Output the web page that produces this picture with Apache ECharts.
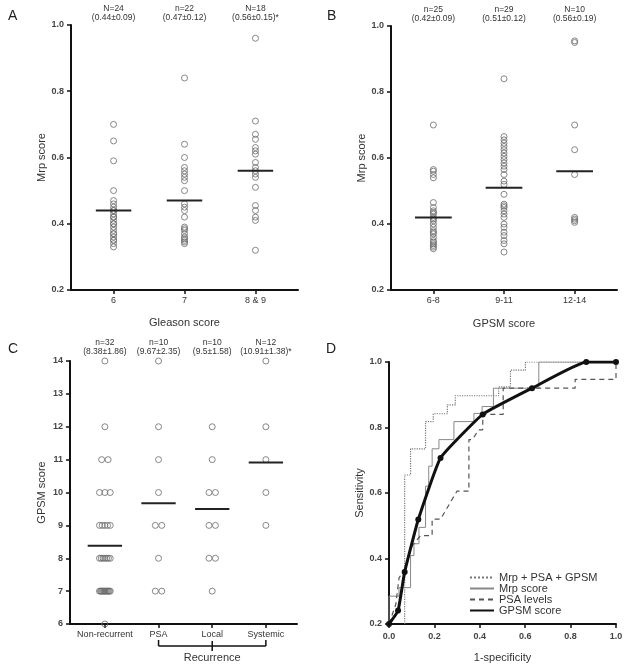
<!DOCTYPE html>
<html>
<head>
<meta charset="utf-8">
<script src="https://cdn.jsdelivr.net/npm/echarts@6/dist/echarts.min.js"></script>
<style>
html, body { margin: 0; padding: 0; background: #fff; }
#chart { width: 629px; height: 668px; }
</style>
</head>
<body>
<div id="chart"></div>
<script>
// panel A: Mrp score by Gleason score
const gleasonCats = ['6', '7', '8 & 9']
const gleasonN = ['N=24', 'n=22', 'N=18']
const gleasonStats = ['(0.44±0.09)', '(0.47±0.12)', '(0.56±0.15)*']
const gleasonMeans = [0.44, 0.47, 0.56]
const mrpGleason6 = [0.70, 0.65, 0.59, 0.50, 0.47, 0.46, 0.45, 0.44, 0.44, 0.43, 0.42, 0.42, 0.41, 0.40, 0.40, 0.39, 0.38, 0.37, 0.37, 0.36, 0.35, 0.35, 0.34, 0.33]
const mrpGleason7 = [0.84, 0.64, 0.60, 0.57, 0.56, 0.55, 0.54, 0.53, 0.50, 0.46, 0.45, 0.44, 0.42, 0.39, 0.385, 0.38, 0.37, 0.36, 0.355, 0.35, 0.345, 0.34]
const mrpGleason89 = [0.96, 0.71, 0.67, 0.655, 0.63, 0.62, 0.61, 0.585, 0.57, 0.56, 0.55, 0.54, 0.51, 0.455, 0.44, 0.42, 0.41, 0.32]

// panel B: Mrp score by GPSM score
const gpsmCats = ['6-8', '9-11', '12-14']
const gpsmN = ['n=25', 'n=29', 'N=10']
const gpsmStats = ['(0.42±0.09)', '(0.51±0.12)', '(0.56±0.19)']
const gpsmMeans = [0.42, 0.51, 0.56]
const mrpGpsm68 = [0.70, 0.565, 0.56, 0.55, 0.54, 0.465, 0.45, 0.44, 0.435, 0.43, 0.42, 0.415, 0.41, 0.40, 0.39, 0.38, 0.375, 0.37, 0.36, 0.35, 0.345, 0.34, 0.335, 0.33, 0.325]
const mrpGpsm911 = [0.84, 0.665, 0.655, 0.645, 0.635, 0.625, 0.615, 0.605, 0.595, 0.585, 0.575, 0.565, 0.55, 0.53, 0.52, 0.49, 0.46, 0.455, 0.45, 0.44, 0.43, 0.42, 0.40, 0.39, 0.375, 0.365, 0.35, 0.34, 0.315]
const mrpGpsm1214 = [0.955, 0.95, 0.70, 0.625, 0.55, 0.42, 0.415, 0.41, 0.405]

// panel C: GPSM score by recurrence
const recCats = ['Non-recurrent', 'PSA', 'Local', 'Systemic']
const recN = ['n=32', 'n=10', 'n=10', 'N=12']
const recStats = ['(8.38±1.86)', '(9.67±2.35)', '(9.5±1.58)', '(10.91±1.38)*']
const recMeans = [8.38, 9.67, 9.5, 10.91]
const gpsmNonRec = [14, 12, 11, 11, 10, 10, 10, 9, 9, 9, 9, 9, 8, 8, 8, 8, 8, 8, 8, 7, 7, 7, 7, 7, 7, 7, 7, 7, 7, 7, 7, 6]
const gpsmPsaRec = [14, 12, 11, 10, 9, 9, 8, 7, 7]
const gpsmLocalRec = [12, 11, 10, 10, 9, 9, 8, 8, 7]
const gpsmSystemicRec = [14, 12, 11, 10, 9]

// panel D: ROC curves [1-specificity, sensitivity]
const rocCombined = [[0.069, 0.2], [0.069, 0.655], [0.095, 0.655], [0.095, 0.735], [0.161, 0.735], [0.161, 0.818], [0.195, 0.818], [0.195, 0.842], [0.257, 0.842], [0.257, 0.869], [0.292, 0.869], [0.292, 0.897], [0.483, 0.897], [0.483, 0.924], [0.535, 0.924], [0.535, 0.975], [0.601, 0.975], [0.601, 1.0], [1.0, 1.0]]
const rocMrp = [[0, 0.2], [0, 0.285], [0.044, 0.285], [0.044, 0.311], [0.095, 0.311], [0.095, 0.409], [0.11, 0.409], [0.11, 0.445], [0.132, 0.445], [0.132, 0.495], [0.161, 0.495], [0.161, 0.621], [0.175, 0.621], [0.175, 0.682], [0.19, 0.682], [0.19, 0.735], [0.22, 0.735], [0.22, 0.763], [0.286, 0.763], [0.286, 0.818], [0.374, 0.818], [0.374, 0.843], [0.41, 0.843], [0.41, 0.864], [0.46, 0.864], [0.46, 0.92], [0.66, 0.92], [0.66, 1.0], [1.0, 1.0]]
const rocPsa = [[0, 0.2], [0.03, 0.26], [0.044, 0.34], [0.07, 0.37], [0.103, 0.44], [0.139, 0.47], [0.19, 0.47], [0.19, 0.52], [0.227, 0.52], [0.286, 0.59], [0.3, 0.606], [0.352, 0.606], [0.352, 0.763], [0.367, 0.763], [0.395, 0.793], [0.413, 0.793], [0.413, 0.84], [0.503, 0.84], [0.503, 0.92], [0.82, 0.92], [0.82, 0.947], [1.0, 0.947], [1.0, 1.0]]
const rocGpsm = [[0, 0.2], [0.04, 0.241], [0.069, 0.359], [0.129, 0.519], [0.227, 0.707], [0.413, 0.84], [0.63, 0.92], [0.869, 1.0], [1.0, 1.0]]

const font = 'Arial, "Liberation Sans", sans-serif'
const AX = '#111'
let chart = echarts.init(document.getElementById('chart'))

const yAx = (grid, min, max, interval, name, gap, dec) => ({
    type: 'value', gridIndex: grid, min: min, max: max, interval: interval,
    name: name, nameLocation: 'middle', nameGap: gap,
    nameTextStyle: { fontSize: 11, color: '#333', fontFamily: font },
    axisLine: { show: true, onZero: false, lineStyle: { color: AX, width: 2 } },
    axisTick: { show: true, length: 4, lineStyle: { color: AX, width: 1.5 } },
    axisLabel: { fontSize: 9, fontWeight: 'bold', color: '#444', margin: 7, fontFamily: font,
        formatter: (v) => dec ? v.toFixed(dec) : String(v) },
    splitLine: { show: false }
})

const catAx = (grid, min, max, labels, name, gap) => {
    const vals = labels.map((_, i) => i)
    return {
        type: 'value', gridIndex: grid, min: min, max: max,
        name: name, nameLocation: 'middle', nameGap: gap,
        nameTextStyle: { fontSize: 11, color: '#333', fontFamily: font },
        axisLine: { show: true, onZero: false, lineStyle: { color: AX, width: 2 } },
        axisTick: { show: true, length: 4, customValues: vals, lineStyle: { color: AX, width: 1.5 } },
        axisLabel: { customValues: vals, fontSize: 9, color: '#333', margin: 6, fontFamily: font,
            formatter: (v) => labels[Math.round(v)] },
        splitLine: { show: false }
    }
}

const topAx = (grid, min, max, ns, stats, margin) => {
    const vals = ns.map((_, i) => i)
    return {
        type: 'value', gridIndex: grid, position: 'top', min: min, max: max,
        axisLine: { show: false }, axisTick: { show: false }, splitLine: { show: false },
        axisLabel: { customValues: vals, fontSize: 8.5, lineHeight: 9, color: '#333', margin: margin, fontFamily: font,
            formatter: (v) => ns[Math.round(v)] + '\n' + stats[Math.round(v)] }
    }
}

// hollow circles, duplicates pushed sideways a little
const circles = (groups, xi, yi, spread) => groups.map((vals, i) => {
    const seen = {}
    const counts = {}
    vals.forEach((v) => { counts[v] = (counts[v] || 0) + 1 })
    return {
        type: 'scatter', xAxisIndex: xi, yAxisIndex: yi, symbol: 'circle', symbolSize: 6,
        itemStyle: { color: 'rgba(255,255,255,0)', borderColor: '#6a6a6a', borderWidth: 1 },
        data: vals.map((v) => {
            const m = counts[v]
            const k = seen[v] || 0
            seen[v] = k + 1
            const step = m > 1 ? Math.min(0.12, spread / (m - 1)) : 0
            return [i + (k - (m - 1) / 2) * step, v]
        }),
        silent: true
    }
})

const meanBars = (means, xi, yi, hw) => ({
    type: 'custom', xAxisIndex: xi, yAxisIndex: yi, z: 5, silent: true,
    data: means.map((m, i) => [i, m]),
    renderItem: (params, api) => {
        const c = api.value(0)
        const v = api.value(1)
        const a = api.coord([c - hw, v])
        const b = api.coord([c + hw, v])
        return { type: 'line', shape: { x1: a[0], y1: a[1], x2: b[0], y2: b[1] }, style: { stroke: '#222', lineWidth: 2 } }
    }
})

const option = {
    animation: false,
    backgroundColor: '#fff',
    grid: [
        { left: 71, top: 25, width: 227, height: 265 },
        { left: 391, top: 26, width: 226, height: 264 },
        { left: 70, top: 361, width: 227, height: 263 },
        { left: 389, top: 362, width: 227, height: 262 }
    ],
    xAxis: [
        catAx(0, -0.6, 2.6, gleasonCats, 'Gleason score', 27),
        catAx(1, -0.6, 2.6, gpsmCats, 'GPSM score', 28),
        catAx(2, -0.65, 3.58, recCats, '', 0),
        {
            type: 'value', gridIndex: 3, min: 0, max: 1, interval: 0.2,
            name: '1-specificity', nameLocation: 'middle', nameGap: 28,
            nameTextStyle: { fontSize: 11, color: '#333', fontFamily: font },
            axisLine: { show: true, onZero: false, lineStyle: { color: AX, width: 2 } },
            axisTick: { show: true, length: 4, lineStyle: { color: AX, width: 1.5 } },
            axisLabel: { fontSize: 9, fontWeight: 'bold', color: '#444', margin: 8, fontFamily: font,
                formatter: (v) => v.toFixed(1) },
            splitLine: { show: false }
        },
        topAx(0, -0.6, 2.6, gleasonN, gleasonStats, 3),
        topAx(1, -0.6, 2.6, gpsmN, gpsmStats, 3),
        topAx(2, -0.65, 3.58, recN, recStats, 5)
    ],
    yAxis: [
        yAx(0, 0.2, 1.0, 0.2, 'Mrp score', 23, 1),
        yAx(1, 0.2, 1.0, 0.2, 'Mrp score', 23, 1),
        yAx(2, 6, 14, 1, 'GPSM score', 23, 0),
        yAx(3, 0.2, 1.0, 0.2, 'Sensitivity', 23, 1)
    ],
    legend: {
        left: 464, top: 567, orient: 'vertical', itemWidth: 24, itemHeight: 8, itemGap: 0,
        itemStyle: { opacity: 0 },
        textStyle: { fontSize: 11, color: '#333', lineHeight: 11, fontFamily: font },
        data: ['Mrp + PSA + GPSM', 'Mrp score', 'PSA levels', 'GPSM score']
    },
    series: [
        ...circles([mrpGleason6, mrpGleason7, mrpGleason89], 0, 0, 0),
        meanBars(gleasonMeans, 0, 0, 0.25),
        ...circles([mrpGpsm68, mrpGpsm911, mrpGpsm1214], 1, 1, 0),
        meanBars(gpsmMeans, 1, 1, 0.26),
        ...circles([gpsmNonRec, gpsmPsaRec, gpsmLocalRec, gpsmSystemicRec], 2, 2, 0.2),
        meanBars(recMeans, 2, 2, 0.32),
        {
            name: 'Mrp + PSA + GPSM', type: 'line', xAxisIndex: 3, yAxisIndex: 3, data: rocCombined,
            symbol: 'none', lineStyle: { type: 'dotted', color: '#777', width: 1.2 }, itemStyle: { color: '#777' }
        },
        {
            name: 'Mrp score', type: 'line', xAxisIndex: 3, yAxisIndex: 3, data: rocMrp,
            symbol: 'none', lineStyle: { color: '#888', width: 1 }, itemStyle: { color: '#888' }
        },
        {
            name: 'PSA levels', type: 'line', xAxisIndex: 3, yAxisIndex: 3, data: rocPsa,
            symbol: 'none', lineStyle: { type: [5, 4], color: '#555', width: 1.2 }, itemStyle: { color: '#555' }
        },
        {
            name: 'GPSM score', type: 'line', xAxisIndex: 3, yAxisIndex: 3, data: rocGpsm,
            smooth: 0.12, symbol: 'circle', symbolSize: 6, z: 4,
            lineStyle: { color: '#111', width: 3 }, itemStyle: { color: '#111' }
        }
    ]
}
chart.setOption(option)

// panel letters and the "Recurrence" bracket under panel C
const px = (i) => chart.convertToPixel({ xAxisIndex: 2 }, i)
const by = 646
const letter = (t, x, y) => ({ type: 'text', x: x, y: y, style: { text: t, fill: '#222', font: '14px ' + font, textVerticalAlign: 'middle' } })
const seg = (x1, y1, x2, y2) => ({ type: 'line', shape: { x1, y1, x2, y2 }, style: { stroke: '#111', lineWidth: 1.5 } })
chart.setOption({
    graphic: [
        letter('A', 8, 16),
        letter('B', 327, 16),
        letter('C', 8, 349),
        letter('D', 326, 349),
        seg(px(1), by, px(3), by),
        seg(px(1), by - 6, px(1), by),
        seg(px(2), by - 5, px(2), by + 5),
        seg(px(3), by - 6, px(3), by),
        { type: 'text', x: px(2), y: 658, style: { text: 'Recurrence', font: '11px ' + font, fill: '#333', textAlign: 'center', textVerticalAlign: 'middle' } }
    ]
})
</script>
</body>
</html>
